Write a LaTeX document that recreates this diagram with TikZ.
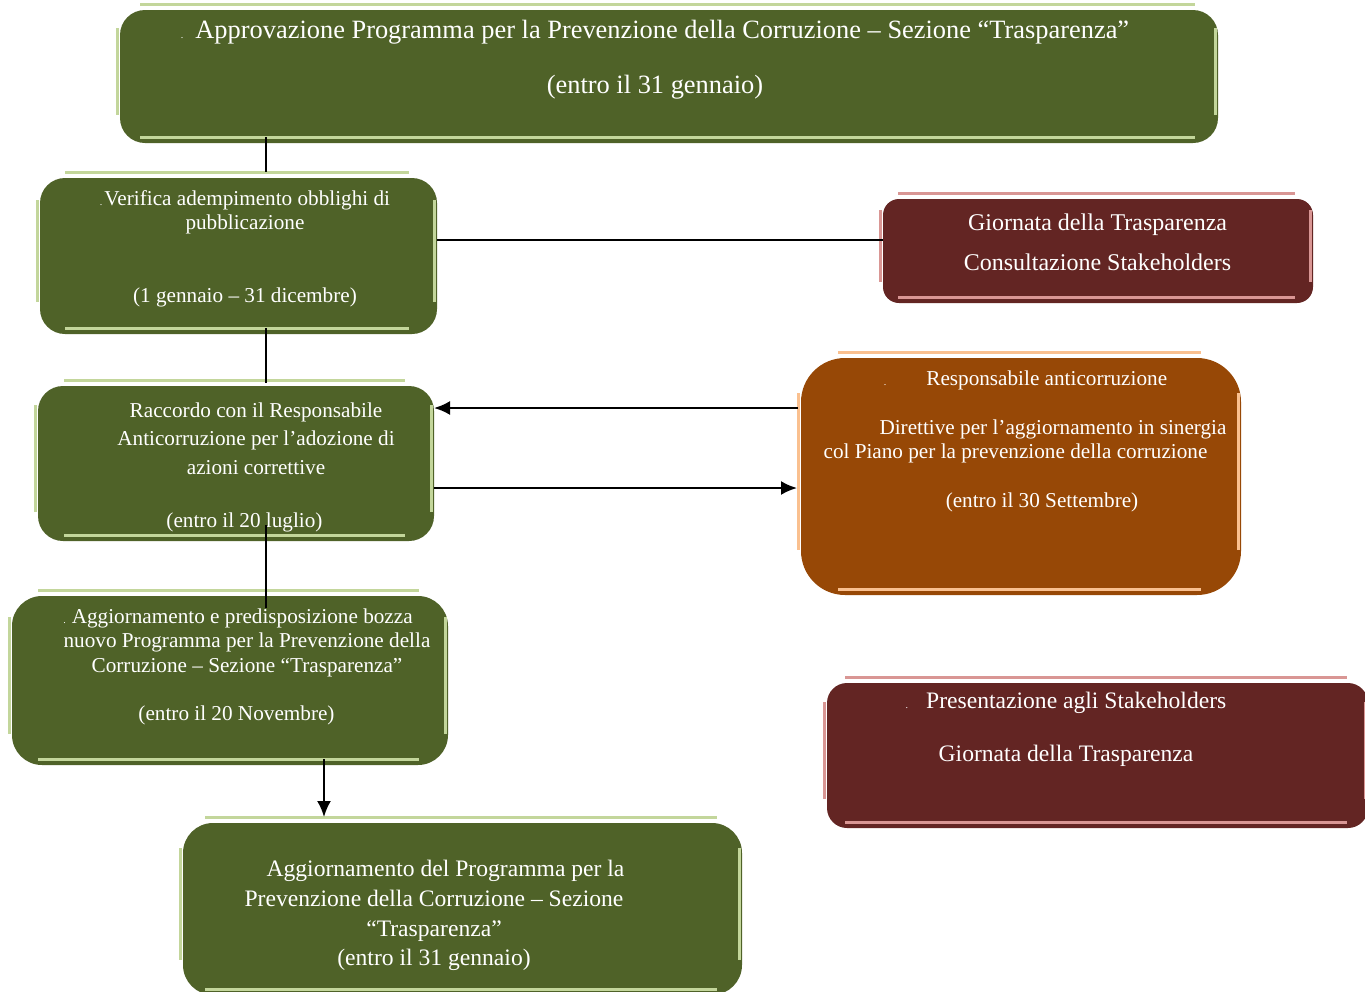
\documentclass[tikz,border=0pt]{standalone}
\usepackage{fontspec}
\setmainfont{Liberation Serif}
\usetikzlibrary{arrows.meta}

\definecolor{boxgreen}{HTML}{4F6228}
\definecolor{rimgreen}{HTML}{C3D69B}
\definecolor{boxred}{HTML}{632523}
\definecolor{rimred}{HTML}{D99694}
\definecolor{boxbrown}{HTML}{974806}
\definecolor{rimbrown}{HTML}{FAC08F}

% light edges round a box: node, colour, side inset, top inset
\newcommand{\boxrim}[4]{%
  \draw [#2, line width=1.5pt]
    ([xshift=#3, yshift=2.75pt]#1.north west) -- ([xshift=-#3-1.5pt, yshift=2.75pt]#1.north east)
    ([xshift=#3, yshift=2.75pt]#1.south west) -- ([xshift=-#3-1.5pt, yshift=2.75pt]#1.south east)
    ([xshift=-1.5pt, yshift=-#4]#1.north west) -- ([xshift=-1.5pt, yshift=#4+5pt]#1.south west)
    ([xshift=-1.5pt, yshift=-#4]#1.north east) -- ([xshift=-1.5pt, yshift=#4+5pt]#1.south east);}

\begin{document}
\begin{tikzpicture}[x=0.5pt, y=-0.5pt]
\tikzset{ >={Latex[length=8pt,width=7pt]},
  box/.style={rectangle, rounded corners=#1, inner sep=0pt, outer sep=0pt},
  txt/.style={text=white, align=center, inner sep=0pt, anchor=north},
  link/.style={black, line width=1.1pt},
}
\clip (0,0) rectangle (1365,991);

%\draw [lightgray, dashed](0,0) grid [step=50] (1365,991);

\node [box=12.5pt, fill=boxgreen, minimum width=549pt, minimum height=66.5pt] (approv) at (669,76.5) {};
\node [box=12.5pt, fill=boxgreen, minimum width=198.5pt, minimum height=78pt] (verifica) at (238.5,256) {};
\node [box=8pt, fill=boxred, minimum width=215pt, minimum height=52pt] (giornata) at (1098,251) {};
\node [box=12.5pt, fill=boxgreen, minimum width=198pt, minimum height=77.5pt] (raccordo) at (236,463.5) {};
\node [box=22pt, fill=boxbrown, minimum width=220pt, minimum height=118.5pt] (resp) at (1021,476.5) {};
\node [box=15pt, fill=boxgreen, minimum width=218pt, minimum height=84.5pt] (bozza) at (230,680.5) {};
\node [box=15pt, fill=boxgreen, minimum width=279.5pt, minimum height=86pt] (aggiorn) at (462.5,909) {};
\node [box=10pt, fill=boxred, minimum width=270.5pt, minimum height=72.5pt] (present) at (1097.5,755.5) {};

\boxrim{approv}{rimgreen}{10pt}{9pt}
\boxrim{verifica}{rimgreen}{12.5pt}{11pt}
\boxrim{giornata}{rimred}{7.5pt}{5.5pt}
\boxrim{raccordo}{rimgreen}{13pt}{9.5pt}
\boxrim{resp}{rimbrown}{18.5pt}{17.5pt}
\boxrim{bozza}{rimgreen}{13pt}{10.5pt}
\boxrim{aggiorn}{rimgreen}{11pt}{12.5pt}
\boxrim{present}{rimred}{9pt}{9.5pt}

\node [txt, font=\fontsize{13.2}{15.6}\selectfont] (approvT) at (655,20)
  {{\tiny.}\hspace{6pt}Approvazione Programma per la Prevenzione della Corruzione – Sezione “Trasparenza”\\[12pt]
   (entro il 31 gennaio)};
\node [txt, font=\fontsize{10.6}{12}\selectfont] (verificaT) at (245,190)
  {{\tiny.}\hspace{1pt}Verifica adempimento obblighi di\\pubblicazione\\[24.5pt](1 gennaio – 31 dicembre)};
\node [txt, font=\fontsize{12}{14.4}\selectfont] (giornataT) at (1097.5,213)
  {Giornata della Trasparenza\\[5.6pt]Consultazione Stakeholders};
\node [txt, font=\fontsize{10.6}{14.25}\selectfont] (raccordoT) at (256,402)
  {Raccordo con il Responsabile\\Anticorruzione per l’adozione di\\azioni correttive\\[12.25pt]
   \hspace*{-11.5pt}(entro il 20 luglio)};
\node [txt, font=\fontsize{10.6}{12.25}\selectfont] (respT) at (1035,370)
  {\hspace*{-9.5pt}{\tiny.}\hspace{20pt}Responsabile anticorruzione\\[12.2pt]
   \hspace*{18pt}Direttive per l’aggiornamento in sinergia\\
   \hspace*{-19.5pt}col Piano per la prevenzione della corruzione\\[12.2pt]
   \hspace*{7pt}(entro il 30 Settembre)};
\node [txt, font=\fontsize{10.6}{12.25}\selectfont] (bozzaT) at (242,608)
  {\hspace*{-4pt}{\tiny.}\hspace{3pt}Aggiornamento e predisposizione bozza\\
   \hspace*{5pt}nuovo Programma per la Prevenzione della\\
   \hspace*{5pt}Corruzione – Sezione “Trasparenza”\\[11.75pt]
   \hspace*{-5.5pt}(entro il 20 Novembre)};
\node [txt, font=\fontsize{11.8}{14.85}\selectfont] (aggiornT) at (434,860)
  {\hspace*{11.5pt}Aggiornamento del Programma per la\\Prevenzione della Corruzione – Sezione\\
   “Trasparenza”\\(entro il 31 gennaio)};
\node [txt, font=\fontsize{11.8}{14.4}\selectfont] (presentT) at (1066,692)
  {{\tiny.}\hspace{9pt}Presentazione agli Stakeholders\\[12.1pt]Giornata della Trasparenza};

\coordinate (spine) at (266,0);
\coordinate (drop) at (324,0);

\draw [link] ([yshift=3pt]approv.south -| spine) -- ([yshift=3pt]verifica.north -| spine);
\draw [link] ([yshift=3pt]verifica.south -| spine) -- ([yshift=1.5pt]raccordo.north -| spine);
\draw [link] ([yshift=8pt]raccordo.south -| spine) -- ([yshift=-6pt]bozza.north -| spine);
\draw [link] ([yshift=8pt]verifica.east) -- ([yshift=8pt]verifica.east -| giornata.west);
\draw [link, ->] ([xshift=-1.5pt, yshift=34.25pt]resp.west) -- ([yshift=34.25pt]resp.west -| raccordo.east);
\draw [link, ->] ([yshift=-12.25pt]raccordo.east) -- ([xshift=-2pt, yshift=-12.25pt]raccordo.east -| resp.west);
\draw [link, ->, shorten >=3pt] ([yshift=3pt]bozza.south -| drop) -- (aggiorn.north -| drop);
\end{tikzpicture}
\end{document}
